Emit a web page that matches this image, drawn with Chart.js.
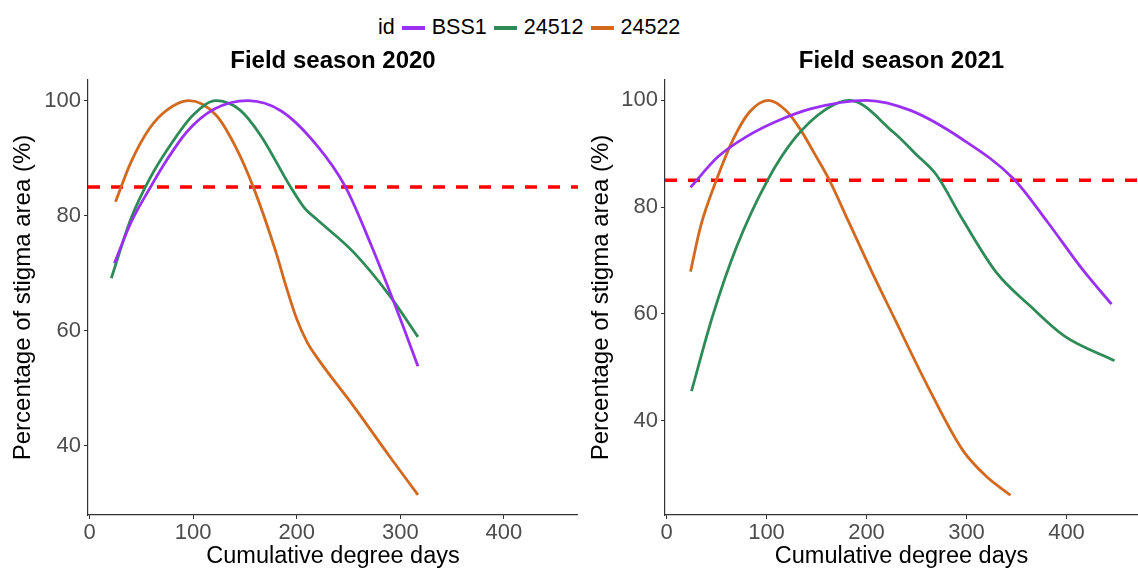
<!DOCTYPE html>
<html>
<head>
<meta charset="utf-8">
<script src="https://cdn.jsdelivr.net/npm/chart.js@4"></script>
<style>
  body { margin: 0; background: #fff; font-family: "Liberation Sans", Arial, sans-serif; }
  #wrap { position: relative; width: 1138px; height: 572px; }
  .panel { position: absolute; top: 38px; height: 534px; }
  #legend { position: absolute; left: 378px; top: 15px; display: flex; align-items: center; font-size: 21.5px; color: #000; }
  #legend .key { display: inline-block; width: 23px; height: 4px; margin: 0 7px 0 7px; }
</style>
</head>
<body>
<div id="wrap">
  <div id="legend"></div>
  <div class="panel" style="left:0;width:578px"><canvas id="c2020"></canvas></div>
  <div class="panel" style="left:578px;width:560px"><canvas id="c2021"></canvas></div>
</div>
<script>
const ids = ['BSS1', '24512', '24522'];
const colors = ['#9B30F5', '#2E8B57', '#D2691E'];
const xTicks = [0, 100, 200, 300, 400];
const yTicks = [40, 60, 80, 100];
const threshold = 85;

// season 2020
const bss1_2020_x = [24, 40, 58, 75, 94, 120, 153, 185, 219, 247, 272, 299, 317];
const bss1_2020_y = [71.7, 78.8, 84.7, 89.8, 94.6, 98.5, 100, 98.2, 92.3, 85, 74.8, 62.5, 53.8];
const g24512_2020_x = [21, 40, 58, 80, 100, 122, 145, 165, 194, 208, 219, 255, 290, 317];
const g24512_2020_y = [69.1, 79.5, 86.4, 92.8, 97.5, 100, 98.4, 94, 85, 81.2, 79.4, 73.6, 66, 58.9];
const g24522_2020_x = [25, 40, 58, 75, 96, 122, 140, 158, 180, 190, 200, 210, 220, 255, 290, 317];
const g24522_2020_y = [82.4, 89.3, 95.2, 98.4, 100, 97.5, 92.3, 85, 73.6, 67.5, 62, 58, 55.2, 46.8, 38, 31.4];

// season 2021
const bss1_2021_x = [24, 52, 80, 108, 144, 200, 244, 295, 347, 381, 416, 445];
const bss1_2021_y = [83.7, 89.5, 93.2, 95.9, 98.4, 100, 98.1, 92.8, 85.3, 77.2, 68.3, 61.8];
const g24512_2021_x = [25, 46, 70, 101, 128, 160, 183, 227, 250, 270, 296, 330, 364, 398, 448];
const g24512_2021_y = [45.5, 59.5, 72.5, 85, 92.8, 98.4, 100, 94, 89.8, 86, 77.7, 67.7, 61.4, 55.8, 51.2];
const g24522_2021_x = [24, 34, 50, 67, 83, 102, 120, 134, 148, 163, 182, 205, 227, 261, 296, 320, 344];
const g24522_2021_y = [67.9, 76.3, 85.1, 92.8, 97.8, 100, 98, 94.5, 90, 85, 77.3, 68, 59.5, 46.5, 34.5, 29.5, 26];

const xMin = -1.5, xMax = 471.5;

// legend
const legend = document.getElementById('legend');
legend.innerHTML = '<span>id</span>' + ids.map((id, i) =>
  `<span class="key" style="background:${colors[i]}"></span><span>${id}</span>`).join('');

function pts(xs, ys) { return xs.map((x, i) => ({ x: x, y: ys[i] })); }

function makeChart(el, title, series, yMin, yMax, yWidth) {
  const datasets = series.map((s, i) => ({
    label: ids[i], data: pts(s[0], s[1]), borderColor: colors[i], borderWidth: 2.8,
    pointRadius: 0, cubicInterpolationMode: 'monotone', fill: false
  }));
  datasets.push({
    label: 'threshold', data: [{ x: xMin, y: threshold }, { x: xMax, y: threshold }],
    borderColor: '#FF0000', borderWidth: 3.5, borderDash: [12, 11], pointRadius: 0
  });
  return new Chart(document.getElementById(el), {
    type: 'line',
    data: { datasets: datasets },
    options: {
      responsive: true, maintainAspectRatio: false, animation: false,
      layout: { padding: 0 },
      plugins: {
        legend: { display: false }, tooltip: { enabled: false },
        title: {
          display: true, text: title, fullSize: false, color: '#000',
          font: { family: 'Liberation Sans', size: 24, weight: 'bold' },
          padding: { top: 9, bottom: 4.2 }
        }
      },
      scales: {
        x: {
          type: 'linear', min: xMin, max: xMax,
          afterBuildTicks: s => { s.ticks = xTicks.map(v => ({ value: v })); },
          afterFit: s => { s.height = 57; },
          grid: { display: true, drawOnChartArea: false, drawTicks: true, tickLength: 4, color: '#333' },
          border: { display: true, color: '#333', width: 1.2 },
          ticks: { color: '#4D4D4D', padding: 1, font: { family: 'Liberation Sans', size: 22 } },
          title: { display: true, text: 'Cumulative degree days', color: '#000',
            font: { family: 'Liberation Sans', size: 23.5 }, padding: { top: 0, bottom: 1 } }
        },
        y: {
          type: 'linear', min: yMin, max: yMax,
          afterBuildTicks: s => { s.ticks = yTicks.map(v => ({ value: v })); },
          afterFit: s => { s.width = yWidth; },
          grid: { display: true, drawOnChartArea: false, drawTicks: true, tickLength: 4, color: '#333' },
          border: { display: true, color: '#333', width: 1.2 },
          ticks: { color: '#4D4D4D', padding: 3, font: { family: 'Liberation Sans', size: 22 } },
          title: { display: true, text: 'Percentage of stigma area (%)', color: '#000',
            font: { family: 'Liberation Sans', size: 24 }, padding: { top: 9, bottom: 0 } }
        }
      }
    }
  });
}

makeChart('c2020', 'Field season 2020', [
  [bss1_2020_x, bss1_2020_y], [g24512_2020_x, g24512_2020_y], [g24522_2020_x, g24522_2020_y]
], 27.9, 103.6, 88);

makeChart('c2021', 'Field season 2021', [
  [bss1_2021_x, bss1_2021_y], [g24512_2021_x, g24512_2021_y], [g24522_2021_x, g24522_2021_y]
], 22.3, 103.8, 87);
</script>
</body>
</html>
